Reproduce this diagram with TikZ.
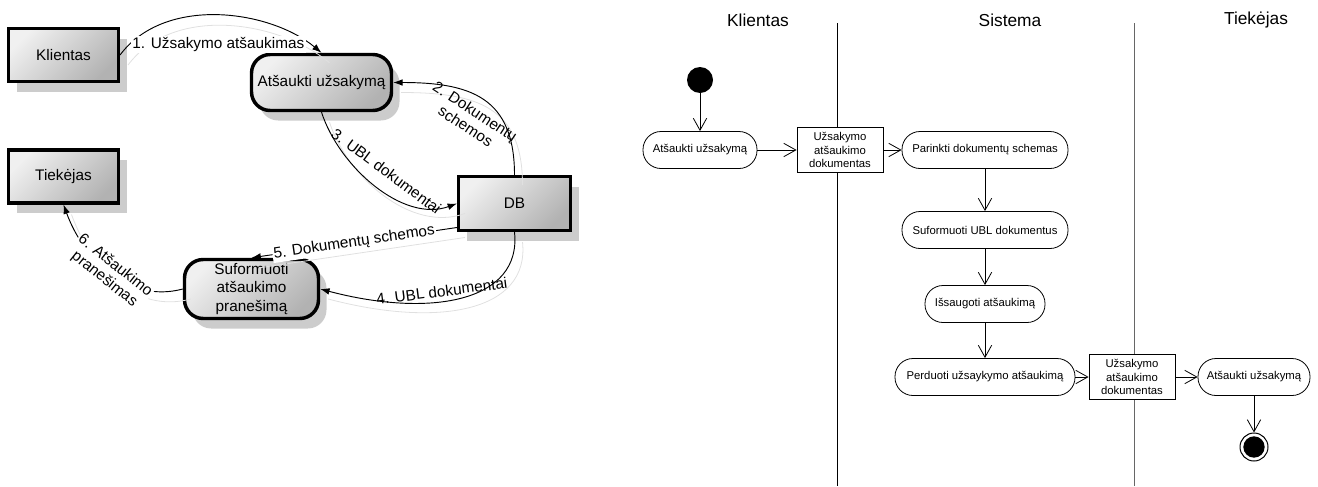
\documentclass[tikz,border=0pt]{standalone}
\usepackage{fontspec}
\setmainfont{Liberation Sans}
\usetikzlibrary{positioning}
\usetikzlibrary{calc}
\usetikzlibrary{arrows.meta}
\usetikzlibrary{shadows}

\begin{document}
\begin{tikzpicture}[
    x=0.75pt, y=-0.75pt,
    EXT/.style={rectangle, draw=black, line width=2.3pt, minimum width=82.5pt, minimum height=39.75pt,
                top color=black!6, bottom color=black!30, shading angle=45,
                drop shadow={shadow xshift=6pt, shadow yshift=-7.5pt, fill=black!20, opacity=1},
                font=\fontsize{11.5}{14}\selectfont},
    PROC/.style={EXT, rounded corners=14pt, line width=2.6pt, inner xsep=0pt, inner ysep=1pt, align=center},
    FLOW/.style={line width=0.7pt, -{Latex[length=7pt, width=5pt]},
                 preaction={draw=black!12, line width=0.6pt, -, transform canvas={shift={(6pt,-7.5pt)}}}},
    LBL/.style={font=\fontsize{11.5}{13}\selectfont, fill=white, inner sep=1pt, align=center},
    HDR/.style={font=\fontsize{13}{15}\selectfont},
    ACT/.style={rectangle, draw, rounded corners=13.5pt, minimum height=27.75pt, line width=0.6pt,
                font=\fontsize{8.5}{10}\selectfont},
    OBJ/.style={rectangle, draw, fill=white, align=center, minimum width=64.5pt, minimum height=33.75pt,
                inner sep=1pt, line width=0.6pt, font=\fontsize{8.5}{10}\selectfont},
    STEP/.style={line width=0.6pt, -{Straight Barb[length=9pt, width=10pt]}},
    ]
    \useasboundingbox (0,0) rectangle (1318,486);

    % context diagram
    \node[EXT] (K) at (63.5,55) {Klientas};
    \node[EXT] (T) at (63.5,176.5) {Tiekėjas};
    \node[EXT, minimum width=84pt, minimum height=40.5pt] (D) at (514.5,203.5) {DB};
    \node[PROC, minimum width=105pt, minimum height=42pt] (A) at (321.5,82.5) {Atšaukti užsakymą};
    \node[PROC, minimum width=100.5pt, minimum height=44.25pt] (S) at (251.5,289) {Suformuoti\\atšaukimo\\pranešimą};

    \draw[FLOW] (K.east) .. controls (165,-5) and (270,10) .. node[LBL, yshift=-22pt] (l1) {1. Užsakymo atšaukimas} (A.north);
    \draw[FLOW] (D.north) to[out=90, in=0, looseness=1.3] node[LBL, sloped, below=5pt, fill=none] (l2) {2. Dokumentų\\schemos} (A.east);
    \draw[FLOW] (A.south) to[out=-72, in=200, looseness=0.9] node[LBL, sloped, above=8pt, fill=none] (l3) {3. UBL dokumentai} (D.west);
    \draw[FLOW] (D.south) .. controls (522,302) and (430,318) .. node[LBL, sloped, above=2pt, pos=0.58, fill=none] (l4) {4. UBL dokumentai} (S.east);
    \draw[FLOW] ([yshift=-18pt]D.west) -- node[LBL, sloped] (l5) {5. Dokumentų schemos} (S.north);
    \draw[FLOW] (S.west) to[out=195, in=-70] node[LBL, sloped] (l6) {6. Atšaukimo\\pranešimas} (T.south);

    % activity diagram
    \node[HDR] (hK) at (758,20) {Klientas};
    \node[HDR] (hS) at (1010,20) {Sistema};
    \node[HDR] (hT) at (1256,20) {Tiekėjas};
    \coordinate (L1top) at (837,23);
    \coordinate (L1bot) at (837,486);
    \coordinate (L2top) at (1134,23);
    \coordinate (L2bot) at (1134,486);
    \draw[line width=0.6pt] (L1top) -- (L1bot);
    \draw[line width=0.7pt, black!60] (L2top) -- (L2bot);

    \node[circle, fill=black, minimum size=19.5pt, inner sep=0pt] (start) at (700,80) {};
    \node[ACT, minimum width=85.5pt] (a1) at (700,150) {Atšaukti užsakymą};
    \node[OBJ] (o1) at (840,150) {Užsakymo\\atšaukimo\\dokumentas};
    \node[ACT, minimum width=124.5pt] (a2) at (985,150) {Parinkti dokumentų schemas};
    \node[ACT, minimum width=124.5pt] (a3) at (985,230) {Suformuoti UBL dokumentus};
    \node[ACT, minimum width=90pt] (a4) at (985,304) {Išsaugoti atšaukimą};
    \node[ACT, minimum width=135pt] (a5) at (985,377) {Perduoti užsaykymo atšaukimą};
    \node[OBJ] (o2) at (1132,377) {Užsakymo\\atšaukimo\\dokumentas};
    \node[ACT, minimum width=84pt] (a6) at (1254,377) {Atšaukti užsakymą};
    \node[circle, draw, line width=0.75pt, minimum size=21pt, inner sep=0pt,
          path picture={\fill (path picture bounding box.center) circle (8pt);}] (stop) at (1254,447) {};

    \draw[STEP] (start) -- (a1);
    \draw[STEP] (a1) -- (o1);
    \draw[STEP] (o1) -- (a2);
    \draw[STEP] (a2) -- (a3);
    \draw[STEP] (a3) -- (a4);
    \draw[STEP] (a4) -- (a5);
    \draw[STEP] (a5) -- (o2);
    \draw[STEP] (o2) -- (a6);
    \draw[STEP] (a6) -- (stop);
\end{tikzpicture}
\end{document}
